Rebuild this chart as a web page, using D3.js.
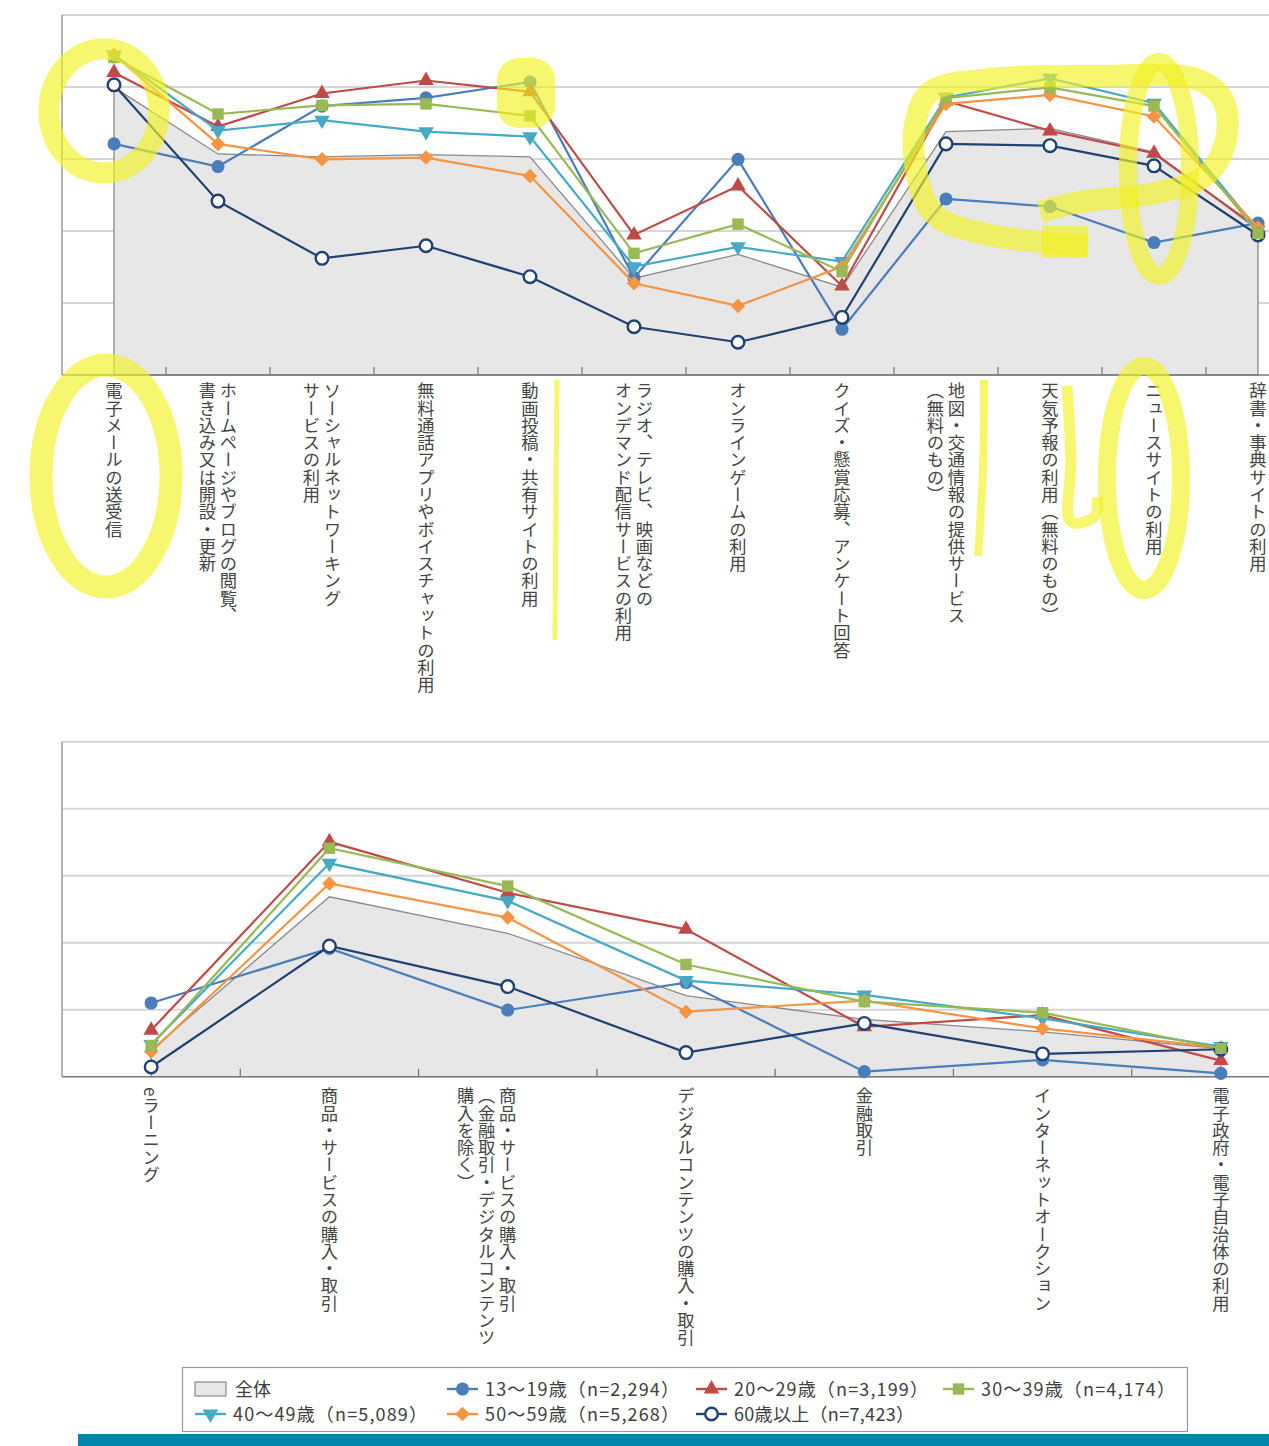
<!DOCTYPE html>
<html><head><meta charset="utf-8">
<script src="https://cdn.jsdelivr.net/npm/d3@7"></script>
<style>
html,body{margin:0;padding:0;background:#fff;}
svg{display:block;}
text{font-family:"Noto Sans CJK JP","Noto Sans",sans-serif;}
</style></head><body>
<svg id="c" width="1269" height="1446"></svg>
<script>
// ---------------- DATA ----------------
const topCategories = [
  "電子メールの送受信",
  "ホームページやブログの閲覧、\n書き込み又は開設・更新",
  "ソーシャルネットワーキング\nサービスの利用",
  "無料通話アプリやボイスチャットの利用",
  "動画投稿・共有サイトの利用",
  "ラジオ、テレビ、映画などの\nオンデマンド配信サービスの利用",
  "オンラインゲームの利用",
  "クイズ・懸賞応募、アンケート回答",
  "地図・交通情報の提供サービス\n（無料のもの）",
  "天気予報の利用（無料のもの）",
  "ニュースサイトの利用",
  "辞書・事典サイトの利用"
];
const bottomCategories = [
  "eラーニング",
  "商品・サービスの購入・取引",
  "商品・サービスの購入・取引\n（金融取引・デジタルコンテンツ\n購入を除く）",
  "デジタルコンテンツの購入・取引",
  "金融取引",
  "インターネットオークション",
  "電子政府・電子自治体の利用"
];

const seriesNames = ["13～19歳（n=2,294）","20～29歳（n=3,199）","30～39歳（n=4,174）",
                     "40～49歳（n=5,089）","50～59歳（n=5,268）","60歳以上（n=7,423）"];
const totalName = "全体";

// top panel values (%)
const topTotal = [79.9, 61.4, 60.6, 61.2, 60.6, 26.9, 33.5, 24.4, 67.6, 68.5, 61.9, 40.3];
const top13 = [64.2, 57.9, 74.7, 77.0, 81.4, 27.0, 59.9, 12.7, 48.9, 46.8, 36.8, 42.2];
const top20 = [84.0, 69.0, 78.2, 81.8, 78.7, 38.9, 52.5, 24.7, 76.1, 67.8, 61.6, 40.8];
const top30 = [88.2, 72.5, 74.9, 75.3, 72.0, 33.8, 41.9, 28.7, 76.9, 79.9, 74.7, 39.4];
const top40 = [88.9, 67.9, 70.8, 67.6, 66.2, 30.1, 35.6, 31.5, 77.1, 82.4, 75.5, 40.3];
const top50 = [89.0, 64.2, 59.9, 60.4, 55.3, 25.5, 19.2, 30.1, 75.3, 77.8, 71.8, 41.0];
const top60 = [80.6, 48.3, 32.4, 35.9, 27.3, 13.4, 9.1, 16.0, 64.2, 63.7, 58.1, 38.9];

// bottom panel values (%)
const botTotal = [8.0, 53.7, 42.8, 24.2, 17.1, 13.4, 8.4];
const bot13 = [22.0, 38.3, 19.9, 28.1, 1.5, 5.0, 1.0];
const bot20 = [13.9, 70.1, 54.9, 44.0, 14.9, 18.4, 4.8];
const bot30 = [9.3, 68.2, 56.9, 33.5, 22.4, 19.1, 8.5];
const bot40 = [9.6, 63.7, 52.5, 28.7, 24.4, 17.4, 9.0];
const bot50 = [7.5, 57.7, 47.5, 19.4, 22.7, 14.4, 8.7];
const bot60 = [2.9, 39.0, 26.9, 7.2, 15.9, 6.8, 8.2];

const yTicks = [0, 20, 40, 60, 80, 100];

// ---------------- STYLE ----------------
const colors = ["#4a7ebb","#be4b48","#98b954","#46aac5","#f59443","#1f4273"];
const symbols = ["circle","triangle","square","triangleDown","diamond","openCircle"];
const drawOrder = [0,1,3,4,5,2];

const svg = d3.select("#c");
const W = 1269;

function markerPath(kind) {
  switch (kind) {
    case "circle": return d3.symbol(d3.symbolCircle, 135)();
    case "openCircle": return d3.symbol(d3.symbolCircle, 125)();
    case "triangle": return d3.symbol(d3.symbolTriangle, 105)();
    case "triangleDown": return d3.symbol(d3.symbolTriangle, 105)();
    case "square": return d3.symbol(d3.symbolSquare, 130)();
    case "diamond": return d3.symbol(d3.symbolSquare, 105)();
  }
}
function markerTransform(kind) {
  if (kind === "triangleDown") return " rotate(180)";
  if (kind === "diamond") return " rotate(45)";
  return "";
}
function drawMarker(g, kind, color, x, y) {
  g.append("path")
    .attr("d", markerPath(kind))
    .attr("transform", `translate(${x},${y})${markerTransform(kind)}`)
    .attr("fill", kind === "openCircle" ? "#fff" : color)
    .attr("stroke", kind === "openCircle" ? color : "none")
    .attr("stroke-width", kind === "openCircle" ? 2.4 : 0);
}

function panel(cfg) {
  const g = svg.append("g");
  const x = d3.scaleBand().domain(d3.range(cfg.cats.length)).range([62, 1310]);
  const y = d3.scaleLinear().domain([0, 100]).range([cfg.bottom, cfg.top]);
  const cx = i => x(i) + x.bandwidth() / 2;

  // gridlines
  g.selectAll("line.grid").data(yTicks.filter(d => d > 0)).join("line")
    .attr("x1", 62).attr("x2", 1310)
    .attr("y1", d => y(d)).attr("y2", d => y(d))
    .attr("stroke", "#d6d6d6").attr("stroke-width", 2);

  // total area
  const area = d3.area().x((d, i) => cx(i)).y0(y(0)).y1(d => y(d));
  g.append("path").datum(cfg.total).attr("d", area)
    .attr("fill", "#e6e7e6").attr("stroke", "#8a8a8a").attr("stroke-width", 1.3);

  // axes
  g.append("line").attr("x1", 62).attr("x2", 62).attr("y1", y(100)).attr("y2", y(0))
    .attr("stroke", "#9a9a9a").attr("stroke-width", 1.5);
  g.append("line").attr("x1", 62).attr("x2", 1310).attr("y1", y(0)).attr("y2", y(0))
    .attr("stroke", "#7a7a7a").attr("stroke-width", 1.6);
  g.selectAll("line.tick").data(d3.range(1, cfg.cats.length + 1)).join("line")
    .attr("x1", i => 62 + i * x.step())
    .attr("x2", i => 62 + i * x.step())
    .attr("y1", y(0)).attr("y2", y(0) - 8)
    .attr("stroke", "#7a7a7a").attr("stroke-width", 1.3);

  // series
  const line = d3.line().x((d, i) => cx(i)).y(d => y(d));
  drawOrder.forEach(s => {
    const vals = cfg.series[s];
    const sg = g.append("g");
    sg.append("path").datum(vals).attr("d", line)
      .attr("fill", "none").attr("stroke", colors[s]).attr("stroke-width", 2.2);
    vals.forEach((v, i) => drawMarker(sg, symbols[s], colors[s], cx(i), y(v)));
  });

  // category labels (vertical)
  const lh = 21;
  cfg.cats.forEach((c, i) => {
    const lines = c.split("\n");
    lines.forEach((t, j) => {
      const off = cfg.centerLabels ? ((lines.length - 1) / 2 - j) * lh : -j * lh;
      g.append("text")
        .attr("x", cx(i) + off).attr("y", cfg.labelY)
        .style("writing-mode", "vertical-rl")
        .attr("font-size", 17.3).attr("fill", "#454545")
        .text(t);
    });
  });
}

panel({cats: topCategories, top: 15, bottom: 375, labelY: 382, centerLabels: true,
       total: topTotal, series: [top13, top20, top30, top40, top50, top60]});
panel({cats: bottomCategories, top: 741.7, bottom: 1076.7, labelY: 1087, centerLabels: false,
       total: botTotal, series: [bot13, bot20, bot30, bot40, bot50, bot60]});

// ---------------- LEGEND ----------------
const lg = svg.append("g");
lg.append("rect").attr("x", 182.5).attr("y", 1367.5).attr("width", 1005).attr("height", 64)
  .attr("fill", "#fff").attr("stroke", "#9a9a9a").attr("stroke-width", 1.2);
const legendCols = [195, 447, 696, 943];
const legendRows = [1389, 1414];
lg.append("rect").attr("x", legendCols[0]).attr("y", legendRows[0] - 7).attr("width", 31).attr("height", 14)
  .attr("fill", "#e6e7e6").attr("stroke", "#8a8a8a").attr("stroke-width", 1.2);
lg.append("text").attr("x", legendCols[0] + 40).attr("y", legendRows[0] + 6.5)
  .attr("font-size", 18).attr("fill", "#404040").text(totalName);
const slots = [[1,0],[2,0],[3,0],[0,1],[1,1],[2,1]];
seriesNames.forEach((nm, s) => {
  const [c, r] = slots[s];
  const x0 = legendCols[c], yy = legendRows[r];
  lg.append("line").attr("x1", x0).attr("x2", x0 + 31).attr("y1", yy).attr("y2", yy)
    .attr("stroke", colors[s]).attr("stroke-width", 2.4);
  drawMarker(lg, symbols[s], colors[s], x0 + 15.5, yy);
  lg.append("text").attr("x", x0 + 38).attr("y", yy + 6.5)
    .attr("font-size", 18).attr("fill", "#404040")
    .attr("textLength", s === 5 ? 180 : 194).attr("lengthAdjust", "spacing")
    .text(nm);
});

// teal bar at the bottom
svg.append("rect").attr("x", 78).attr("y", 1434).attr("width", W - 78).attr("height", 12).attr("fill", "#0086ad");

// ---------------- HIGHLIGHTER ANNOTATIONS ----------------
const hlColor = "#f2f224";
const hlOpacity = 0.66;
const highlightEllipses = [
  [104, 111, 55, 62, 21],
  [106, 476, 65, 111, 23],
  [1159, 169, 31, 107, 18],
  [1144, 478, 37, 112, 18]
];
const highlightStrokes = [
  [[[557,380],[556,500],[555,640]], 5],
  [[[1040,212],[1080,202],[1150,194],[1205,176],[1226,140],[1223,100],[1196,79],[1100,76],[990,79],[930,92],[915,125],[917,175],[935,215],[990,235],[1088,246]], 22],
  [[[984,380],[983,470],[978,556]], 8],
  [[[1067,386],[1071,460],[1071,522],[1095,516],[1097,497]], 11]
];
const hline = d3.line().curve(d3.curveCatmullRom);
highlightEllipses.forEach(([ex, ey, rx, ry, w]) => {
  svg.append("ellipse").attr("cx", ex).attr("cy", ey).attr("rx", rx).attr("ry", ry)
    .attr("fill", "none").attr("stroke", hlColor).attr("stroke-width", w).attr("opacity", hlOpacity);
});
highlightStrokes.forEach(([pts, w]) => {
  svg.append("path").attr("d", hline(pts)).attr("fill", "none")
    .attr("stroke", hlColor).attr("stroke-width", w).attr("opacity", hlOpacity)
    .attr("stroke-linecap", "butt").attr("stroke-linejoin", "round");
});
svg.append("rect").attr("x", 497).attr("y", 58).attr("width", 58).attr("height", 70).attr("rx", 22)
  .attr("fill", hlColor).attr("opacity", hlOpacity);
svg.append("rect").attr("x", 1042).attr("y", 226).attr("width", 46).attr("height", 32)
  .attr("fill", hlColor).attr("opacity", hlOpacity);
</script>
</body></html>
